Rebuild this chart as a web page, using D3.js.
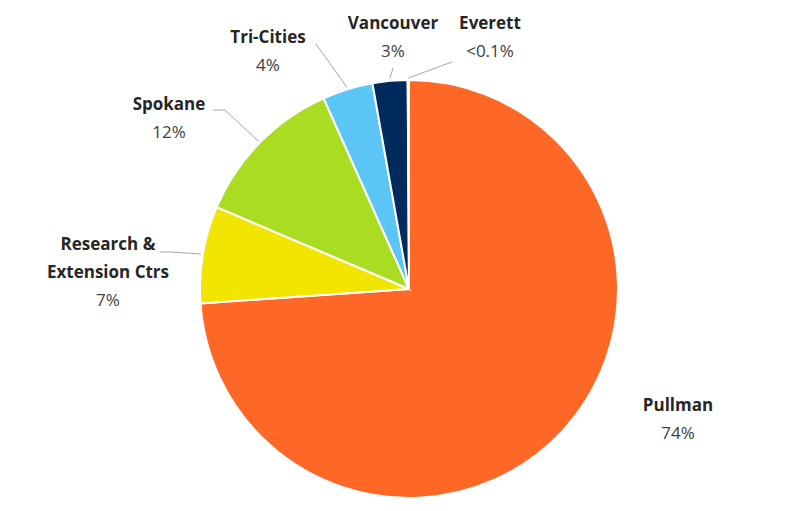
<!DOCTYPE html>
<html>
<head>
<meta charset="utf-8">
<script src="https://cdn.jsdelivr.net/npm/d3@7"></script>
<style>
body { margin: 0; background: #fff; }
text { font-family: "Open Sans", "Noto Sans", sans-serif; font-size: 17px; fill: #404040; }
</style>
</head>
<body>
<svg id="main_svg" width="792" height="511"></svg>
<script>
// campus shares, clockwise from 12 o'clock
var campuses = ["Pullman", "Research & Extension Ctrs", "Spokane", "Tri-Cities", "Vancouver", "Everett"];
var shares = [73.9, 7.5, 11.9, 3.9, 2.7, 0.1];
var shareLabels = ["74%", "7%", "12%", "4%", "3%", "<0.1%"];
var colors = ["#ff6726", "#f2e500", "#aadd22", "#5bc5f5", "#002b5c", "#8a8a8a"];

var svg = d3.select("#main_svg");
var cx = 409, cy = 289, r = 209;

var pie = d3.pie().sort(null).value(function(d) { return d; });
var arcs = pie(shares);
var arc = d3.arc().innerRadius(0).outerRadius(r);

var g = svg.append("g").attr("transform", "translate(" + cx + "," + cy + ")");
g.selectAll("path")
    .data(arcs)
    .enter()
    .append("path")
    .attr("d", arc)
    .style("fill", function(d, i) { return colors[i]; })
    .style("stroke", "#fff")
    .style("stroke-width", 2);

// label placement: [x, y of first line, leader start x, y] in page coords
var labelPos = [
    [678, 411, null, null],
    [108, 250, 160, 252],
    [169, 110, 213, 110],
    [268, 43, 316, 44],
    [393, 29, 393, 68],
    [490, 29, 452, 62]
];

campuses.forEach(function(name, i) {
    var p = labelPos[i];
    var lines = name == "Research & Extension Ctrs" ? ["Research &", "Extension Ctrs"] : [name];
    if (p[2] != null) {
        // leader ends just outside the slice edge at mid angle
        var a = (arcs[i].startAngle + arcs[i].endAngle) / 2;
        var ex = cx + Math.sin(a) * (r + 2), ey = cy - Math.cos(a) * (r + 2);
        var pts = [[p[2], p[3]]];
        if (i == 1 || i == 2) pts.push([p[2] + (i == 1 ? 10 : 12), p[3]]);
        pts.push([ex, ey]);
        svg.append("path")
            .attr("d", d3.line()(pts))
            .style("fill", "none")
            .style("stroke", "#a6a6a6")
            .style("stroke-width", 1);
    }
    var t = svg.append("text").attr("text-anchor", "middle");
    lines.forEach(function(l, k) {
        t.append("tspan").attr("x", p[0]).attr("y", p[1] + k * 28)
            .style("font-weight", "bold").style("fill", "#262626").text(l);
    });
    t.append("tspan").attr("x", p[0]).attr("y", p[1] + lines.length * 28).text(shareLabels[i]);
});
</script>
</body>
</html>
